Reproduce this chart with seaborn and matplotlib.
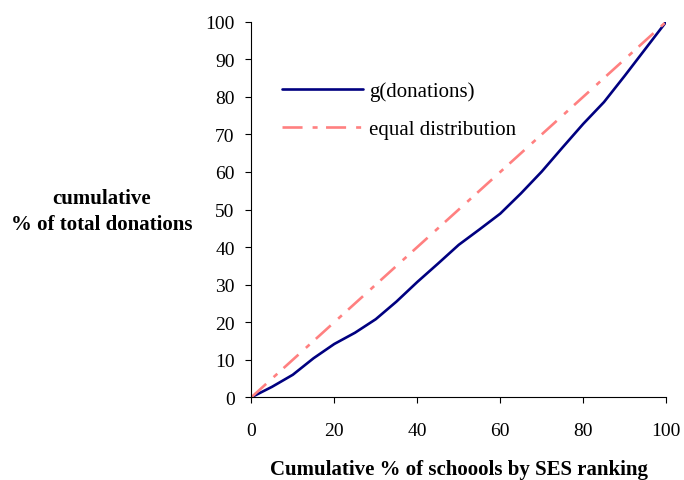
import matplotlib
matplotlib.use("Agg")
import matplotlib.pyplot as plt
import seaborn as sns
import pandas as pd

# Cumulative share of schools (ranked by SES) and share of donations received
schools_pct = [0, 5, 10, 15, 20, 25, 30, 35, 40, 45, 50,
               55, 60, 65, 70, 75, 80, 85, 90, 95, 100]
donations_pct = [0, 2.8, 6.0, 10.4, 14.2, 17.2, 20.8, 25.5, 30.7, 35.6, 40.6,
                 44.7, 48.9, 54.3, 60.1, 66.5, 72.8, 78.6, 85.6, 92.8, 100]
equal_pct = [0, 5, 10, 15, 20, 25, 30, 35, 40, 45, 50,
             55, 60, 65, 70, 75, 80, 85, 90, 95, 100]

series_names = ["g(donations)", "equal distribution"]
tick_values = [0, 20, 40, 60, 80, 100]
ytick_values = [0, 10, 20, 30, 40, 50, 60, 70, 80, 90, 100]

df = pd.concat([
    pd.DataFrame({"x": schools_pct, "y": donations_pct, "series": series_names[0]}),
    pd.DataFrame({"x": schools_pct, "y": equal_pct, "series": series_names[1]}),
])

sns.set_style("ticks")
plt.rcParams["font.family"] = ["Liberation Serif", "DejaVu Serif"]
plt.rcParams["text.color"] = "black"
plt.rcParams["axes.labelcolor"] = "black"
plt.rcParams["xtick.color"] = "black"
plt.rcParams["ytick.color"] = "black"

fig = plt.figure(figsize=(6.84, 4.81), dpi=100)
ax = fig.add_axes([0.3674, 0.1719, 0.6066, 0.7809])

sns.lineplot(
    data=df, x="x", y="y", hue="series", style="series", ax=ax,
    palette={series_names[0]: "#000080", series_names[1]: "#FF8080"},
    dashes={series_names[0]: "", series_names[1]: (7.6, 3.8, 1.9, 3.2)},
    linewidth=1.9, sort=False, legend=True,
)

ax.set_xlim(0, 100)
ax.set_ylim(0, 100)
ax.set_xticks(tick_values)
ax.set_yticks(ytick_values)
ax.tick_params(axis="both", labelsize=14, length=4, width=0.8, color="black",
               labelcolor="black", direction="out")
ax.tick_params(axis="x", pad=14)
ax.tick_params(axis="y", pad=8)
for s in ["top", "right"]:
    ax.spines[s].set_visible(False)
for s in ["left", "bottom"]:
    ax.spines[s].set_color("black")
    ax.spines[s].set_linewidth(0.8)

ax.set_xlabel("Cumulative % of schoools by SES ranking", fontsize=15,
              fontweight="bold", labelpad=14, color="black")
ax.set_ylabel("")
fig.text(0.149, 0.559, "cumulative\n% of total donations", ha="center", va="center",
         fontsize=15, fontweight="bold", linespacing=1.45, color="black")

handles, labels = ax.get_legend_handles_labels()
leg = ax.legend(handles, labels, loc="upper left", bbox_to_anchor=(0.412, 0.829),
                bbox_transform=fig.transFigure, frameon=False, fontsize=15,
                handlelength=3.9, handletextpad=0.3, borderpad=0, borderaxespad=0,
                labelspacing=0.9)
for t in leg.get_texts():
    t.set_color("black")

fig.savefig("out.png", dpi=100)
